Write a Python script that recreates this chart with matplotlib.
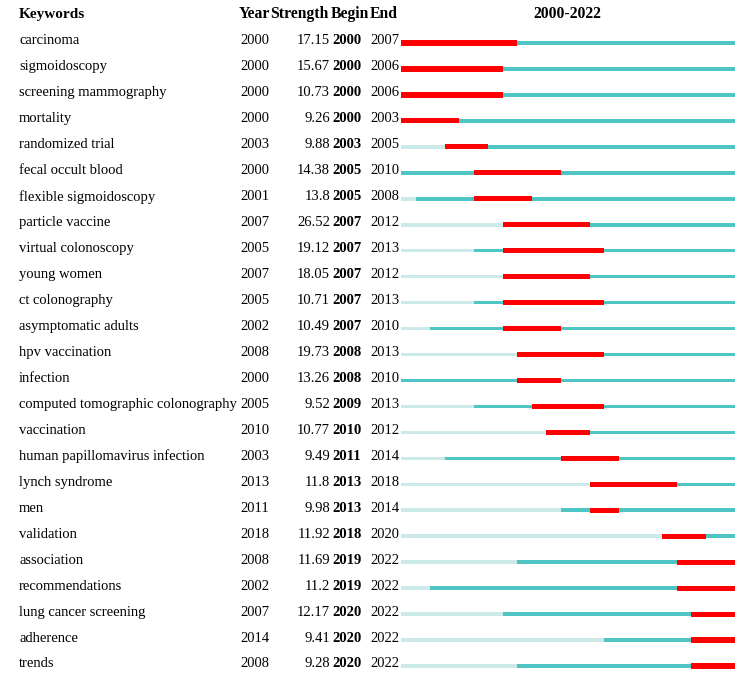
import matplotlib
matplotlib.use("Agg")
import matplotlib.pyplot as plt
from matplotlib.transforms import blended_transform_factory

keywords = ["carcinoma", "sigmoidoscopy", "screening mammography", "mortality",
            "randomized trial", "fecal occult blood", "flexible sigmoidoscopy",
            "particle vaccine", "virtual colonoscopy", "young women", "ct colonography",
            "asymptomatic adults", "hpv vaccination", "infection",
            "computed tomographic colonography", "vaccination",
            "human papillomavirus infection", "lynch syndrome", "men", "validation",
            "association", "recommendations", "lung cancer screening", "adherence", "trends"]
years = [2000, 2000, 2000, 2000, 2003, 2000, 2001, 2007, 2005, 2007, 2005, 2002, 2008,
         2000, 2005, 2010, 2003, 2013, 2011, 2018, 2008, 2002, 2007, 2014, 2008]
strengths = ["17.15", "15.67", "10.73", "9.26", "9.88", "14.38", "13.8", "26.52", "19.12",
             "18.05", "10.71", "10.49", "19.73", "13.26", "9.52", "10.77", "9.49", "11.8",
             "9.98", "11.92", "11.69", "11.2", "12.17", "9.41", "9.28"]
begins = [2000, 2000, 2000, 2000, 2003, 2005, 2005, 2007, 2007, 2007, 2007, 2007, 2008,
          2008, 2009, 2010, 2011, 2013, 2013, 2018, 2019, 2019, 2020, 2020, 2020]
ends = [2007, 2006, 2006, 2003, 2005, 2010, 2008, 2012, 2013, 2012, 2013, 2010, 2013,
        2010, 2013, 2012, 2014, 2018, 2014, 2020, 2022, 2022, 2022, 2022, 2022]
period_start, period_end = 2000, 2022
headers = ["Keywords", "Year", "Strength", "Begin", "End"]
period_label = "2000-2022"

W, H = 744, 687
fig = plt.figure(figsize=(W / 100, H / 100), dpi=100)
fig.patch.set_facecolor("white")

row0_px, row_step_px = 43, 25.96
ax = fig.add_axes([401 / W, 0, (735 - 401) / W, 1])
ax.set_xlim(period_start, period_end + 1)
ax.set_ylim((H - row0_px) / row_step_px, -row0_px / row_step_px)
ax.axis("off")

light = "#cdeaea"
teal = "#4ec4c4"
red = "#ff0000"
thin, thick = 0.14, 0.2

for i, (y, b, e) in enumerate(zip(years, begins, ends)):
    if y > period_start:
        ax.barh(i, y - period_start, left=period_start, height=thin, color=light, lw=0)
    ax.barh(i, period_end + 1 - y, left=y, height=thin, color=teal, lw=0)
    ax.barh(i, e + 1 - b, left=b, height=thick, color=red, lw=0)

tr = blended_transform_factory(fig.transFigure, ax.transData)
font = "Liberation Serif"
fs = 10.5
dy = -0.08

def put(x_px, row, s, ha="left", bold=False, size=fs):
    ax.text(x_px / W, row + dy, s, transform=tr, ha=ha, va="center",
            fontsize=size, family=font, fontweight="bold" if bold else "normal",
            clip_on=False)

hs = 11.3
put(19, -1.03, headers[0], bold=True, size=11)
put(239, -1.03, headers[1], bold=True, size=hs)
put(270, -1.03, headers[2], bold=True, size=hs)
put(331, -1.03, headers[3], bold=True, size=hs)
put(370, -1.03, headers[4], bold=True, size=hs)
put(567, -1.03, period_label, ha="center", bold=True, size=hs)

for i in range(len(keywords)):
    put(19, i, keywords[i])
    put(240, i, str(years[i]))
    put(330, i, strengths[i], ha="right")
    put(332, i, str(begins[i]), bold=True)
    put(370, i, str(ends[i]))

fig.savefig("out.png", dpi=100, facecolor="white")
